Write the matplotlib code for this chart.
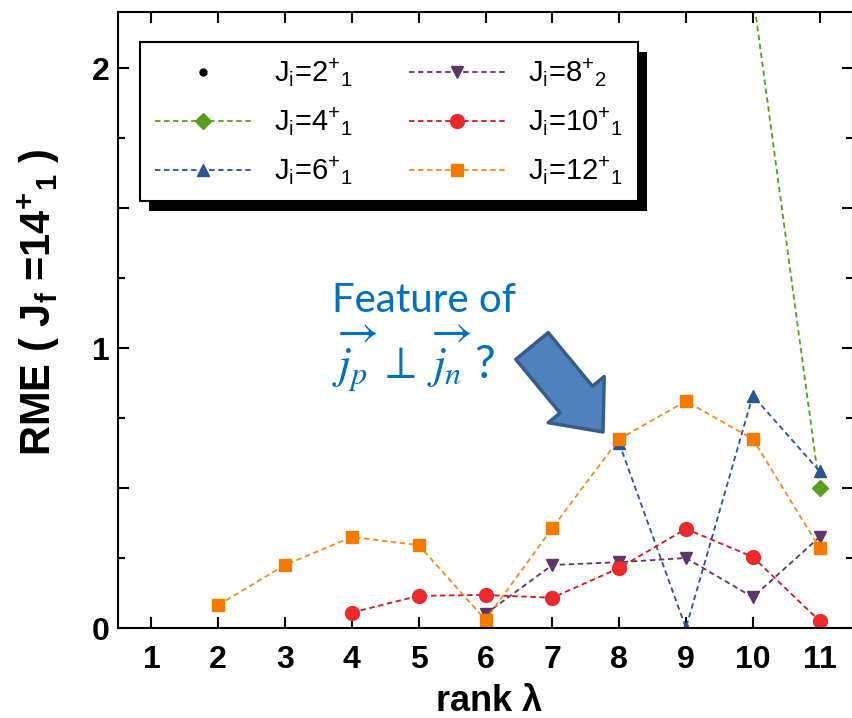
import numpy as np
import matplotlib
matplotlib.use('Agg')
import matplotlib.pyplot as plt
from matplotlib.ticker import MultipleLocator, FuncFormatter
from matplotlib.patches import Rectangle
from matplotlib.transforms import IdentityTransform

# RME values vs. rank lambda for the different initial states
j2_rank = []
j2_rme = []
j4_rank = [10, 11]
j4_rme = [2.27, 0.50]
j6_rank = [8, 9, 10, 11]
j6_rme = [0.66, 0.0, 0.83, 0.56]
j8_rank = [6, 7, 8, 9, 10, 11]
j8_rme = [0.05, 0.225, 0.235, 0.25, 0.11, 0.325]
j10_rank = [4, 5, 6, 7, 8, 9, 10, 11]
j10_rme = [0.055, 0.115, 0.118, 0.108, 0.214, 0.354, 0.254, 0.025]
j12_rank = [2, 3, 4, 5, 6, 7, 8, 9, 10, 11]
j12_rme = [0.082, 0.225, 0.325, 0.296, 0.029, 0.357, 0.675, 0.81, 0.675, 0.286]

ranks = np.arange(1, 12)

plt.rcParams['font.family'] = ['Liberation Sans', 'DejaVu Sans']
plt.rcParams['mathtext.fontset'] = 'custom'
plt.rcParams['mathtext.rm'] = 'Liberation Sans'
plt.rcParams['mathtext.it'] = 'Liberation Sans:italic'
plt.rcParams['mathtext.bf'] = 'Liberation Sans:bold'

fig = plt.figure(figsize=(8.52, 7.18), dpi=100)
ax = fig.add_axes([118 / 852, 90 / 718, 735 / 852, 616 / 718])

dash = (0, (3, 2))
ax.plot(j2_rank, j2_rme, 'o', color='black', ms=5, ls='none',
        label=r'J$_{\rm i}$=$2^{+}{}_{1}$')
ax.plot(j4_rank, j4_rme, marker='D', color='#5a9e1e', ms=8, lw=1.3, ls=dash,
        label=r'J$_{\rm i}$=$4^{+}{}_{1}$')
ax.plot(j6_rank, j6_rme, marker='^', color='#2a5492', ms=9, lw=1.3, ls=dash,
        label=r'J$_{\rm i}$=$6^{+}{}_{1}$')
ax.plot(j8_rank, j8_rme, marker='v', color='#5e3566', ms=9, lw=1.3, ls=dash,
        label=r'J$_{\rm i}$=$8^{+}{}_{2}$')
ax.plot(j10_rank, j10_rme, marker='o', color='#d8141c', mfc='#ec2a2e', mec='#ec2a2e',
        ms=10, lw=1.3, ls=dash, label=r'J$_{\rm i}$=$10^{+}{}_{1}$')
ax.plot(j12_rank, j12_rme, marker='s', color='#f98a1a', mfc='#f57a00', mec='#f57a00',
        ms=9, lw=1.3, ls=dash, label=r'J$_{\rm i}$=$12^{+}{}_{1}$')

ax.set_xlim(0.5, 11.5)
ax.set_ylim(0, 2.2)
ax.set_xticks(ranks)
ax.yaxis.set_major_locator(MultipleLocator(0.5))
ax.yaxis.set_minor_locator(MultipleLocator(0.25))
ax.yaxis.set_major_formatter(FuncFormatter(lambda v, p: f'{v:.0f}' if abs(v - round(v)) < 1e-6 else ''))

for s in ax.spines.values():
    s.set_linewidth(1.5)
ax.tick_params(which='both', direction='in', top=True, right=True, width=1.5)
ax.tick_params(which='major', length=8)
ax.tick_params(which='minor', length=5)
ax.tick_params(axis='x', pad=12)
ax.tick_params(axis='y', pad=6)
for lab in ax.get_xticklabels() + ax.get_yticklabels():
    lab.set_fontsize(23)
    lab.set_fontweight('bold')

ax.set_xlabel(r'rank $\mathbf{\lambda}$', fontsize=26, fontweight='bold')
ax.xaxis.label.set_va('baseline')
ax.xaxis.set_label_coords(0.5 + 3 / 735, -83 / 616)
ax.set_ylabel(r'RME ( J$_{\mathbf{f}}$ =14$^{\mathbf{+}}{}_{\mathbf{1}}$ )', fontsize=30,
              fontweight='bold')
ax.yaxis.set_label_coords(-56 / 735, 326 / 616)

leg = ax.legend(ncol=2, loc='upper left', bbox_to_anchor=(0.03, 0.951), borderaxespad=0,
                fontsize=21, frameon=True, fancybox=False, edgecolor='black',
                framealpha=1, handlelength=3.3, handletextpad=0.8, columnspacing=1.9,
                labelspacing=0.55, borderpad=0.5)
leg.get_frame().set_linewidth(1.5)

# text and block arrow pointing at the rank 8-9 region
fig.text(332 / 852, 1 - 312 / 718, 'Feature of', color='#0070c0', fontsize=29,
         family='Lato', va='baseline')
fig.text(332 / 852, 1 - 380 / 718, r'$\overrightarrow{j_p}\;\perp\;\overrightarrow{j_n}$ ?',
         color='#0070c0', fontsize=33, math_fontfamily='stix', family='Lato', va='baseline')
ax.annotate('', xy=(603, 718 - 432), xycoords='figure pixels',
            xytext=(532, 718 - 346), textcoords='figure pixels',
            arrowprops=dict(arrowstyle='simple,head_length=0.55,head_width=0.95,tail_width=0.55',
                            mutation_scale=55, fc='#4f81bd', ec='#385d8a', lw=2.5,
                            shrinkA=0, shrinkB=0))

# solid black drop shadow behind the legend box
fig.canvas.draw()
bb = leg.get_window_extent()
shadow = Rectangle((bb.x0 + 9, bb.y0 - 10), bb.width, bb.height, transform=IdentityTransform(),
                   fc='black', ec='none', zorder=leg.get_zorder() - 0.1)
ax.add_artist(shadow)

fig.savefig('out.png', dpi=100)
